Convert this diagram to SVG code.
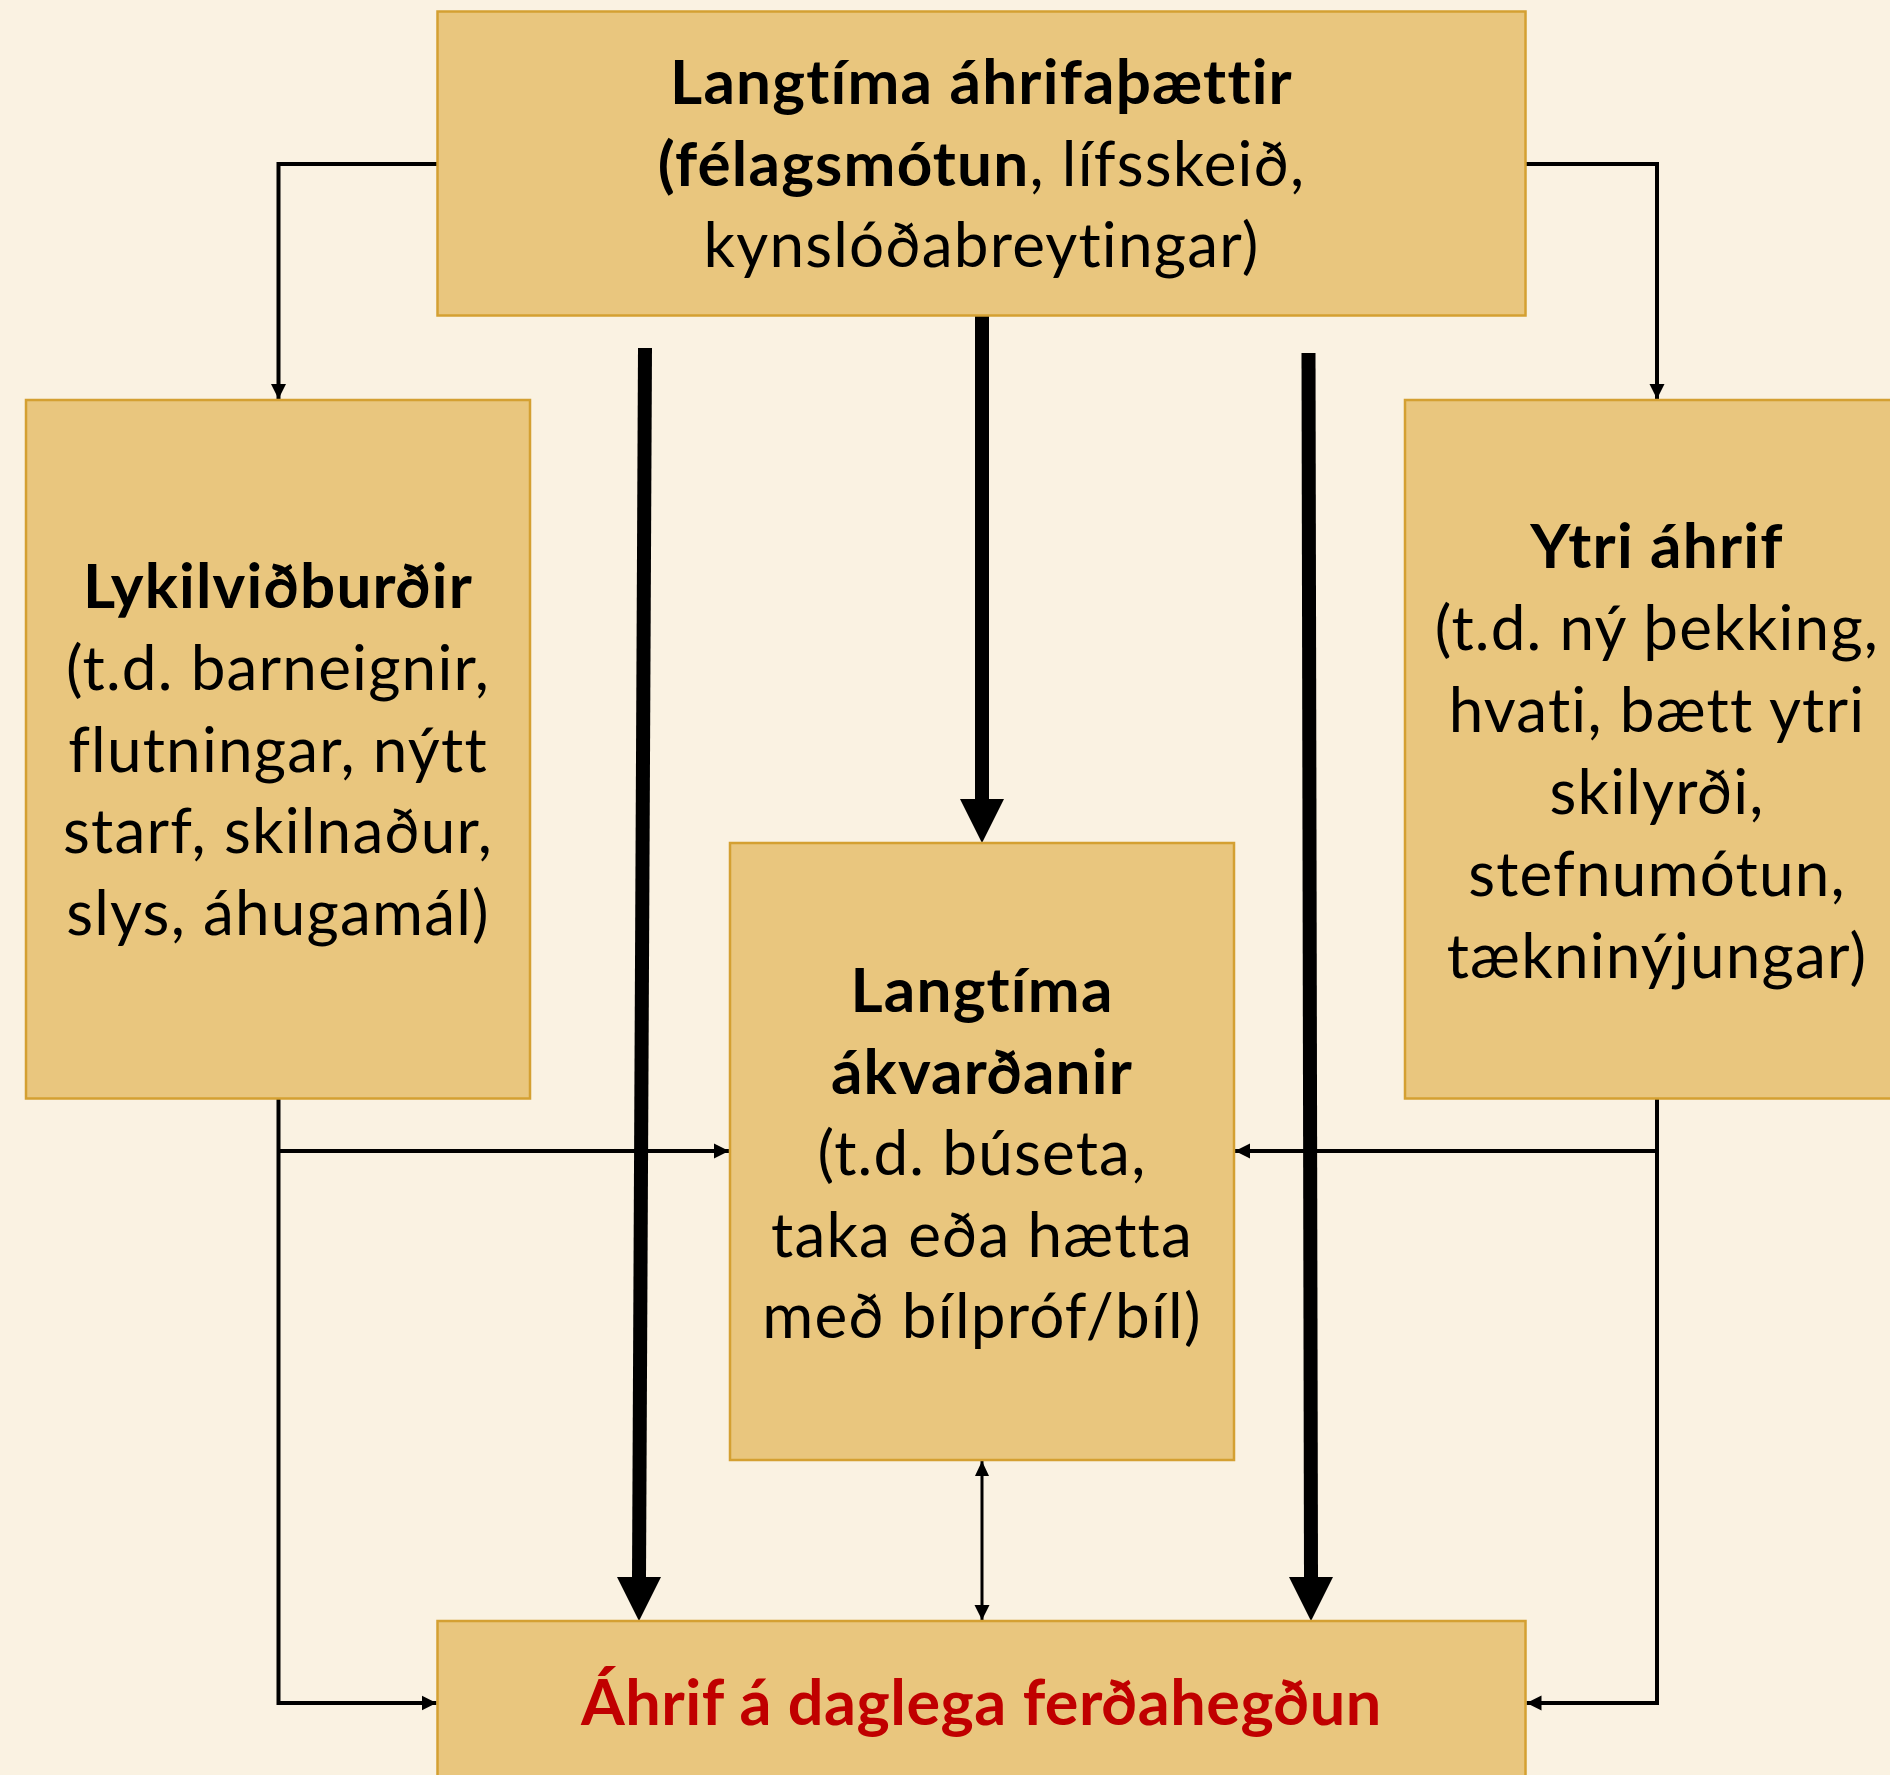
<svg xmlns="http://www.w3.org/2000/svg" width="1890" height="1775" viewBox="0 0 1890 1775">
<style>
.box{fill:#E9C67E;stroke:#D4A032;stroke-width:2.5}
.t{font-family:Lato,"Open Sans","Liberation Sans",sans-serif;font-size:62px;letter-spacing:1.2px;fill:#000;text-anchor:middle;font-variant-ligatures:none;font-feature-settings:"liga" 0,"clig" 0,"dlig" 0}
.b{font-weight:bold}
.red{fill:#C00000;font-weight:bold;font-size:63px;letter-spacing:0.5px}
.thin{fill:none;stroke:#000;stroke-width:4}
.thin2{fill:none;stroke:#000;stroke-width:3}
.thick{fill:none;stroke:#000;stroke-width:14}
</style>
<defs>
<marker id="ah" markerUnits="userSpaceOnUse" markerWidth="16" markerHeight="16" viewBox="0 0 16 16" refX="15" refY="8" orient="auto">
<path d="M0,0.5 L15,8 L0,15.5 Z" fill="#000"/>
</marker>
<marker id="ahs" markerUnits="userSpaceOnUse" markerWidth="16" markerHeight="16" viewBox="0 0 16 16" refX="0" refY="8" orient="auto">
<path d="M15,1 L0,8 L15,15 Z" fill="#000"/>
</marker>
</defs>
<rect x="0" y="0" width="1890" height="1775" fill="#FAF2E2"/>

<g id="connectors">
<path class="thin" d="M437.5,164 H278.5 V399" marker-end="url(#ah)"/>
<path class="thin" d="M1525.5,164 H1657 V399" marker-end="url(#ah)"/>
<path class="thin" d="M278.5,1099 V1703 H436.5" marker-end="url(#ah)"/>
<path class="thin" d="M278.5,1151 H729" marker-end="url(#ah)"/>
<path class="thin" d="M1657,1099 V1703 H1526.5" marker-end="url(#ah)"/>
<path class="thin" d="M1657,1151 H1235" marker-end="url(#ah)"/>
<path class="thin2" d="M982,1461 V1620" marker-start="url(#ahs)" marker-end="url(#ah)"/>
<line class="thick" x1="982" y1="316" x2="982" y2="800"/>
<polygon points="960,799 1004,799 982,843" fill="#000"/>
<line class="thick" x1="645" y1="348" x2="639" y2="1578"/>
<polygon points="617,1577 661,1577 639,1621" fill="#000"/>
<line class="thick" x1="1308.5" y1="353" x2="1311" y2="1578"/>
<polygon points="1289,1577 1333,1577 1311,1621" fill="#000"/>
</g>

<g id="top">
<rect class="box" x="437.5" y="11.5" width="1088" height="304"/>
<text class="t b" x="981.5" y="104">Langtíma áhrifaþættir</text>
<text class="t" x="981.5" y="185.5"><tspan class="b">(félagsmótun</tspan>, lífsskeið,</text>
<text class="t" x="981.5" y="267">kynslóðabreytingar)</text>
</g>

<g id="left">
<rect class="box" x="26" y="400" width="504" height="698.5"/>
<text class="t b" x="278" y="608">Lykilviðburðir</text>
<text class="t" x="278" y="690">(t.d. barneignir,</text>
<text class="t" x="278" y="771.5">flutningar, nýtt</text>
<text class="t" x="278" y="853">starf, skilnaður,</text>
<text class="t" x="278" y="935">slys, áhugamál)</text>
</g>

<g id="right">
<rect class="box" x="1405" y="400" width="504" height="698.5"/>
<text class="t b" x="1657" y="568">Ytri áhrif</text>
<text class="t" x="1657" y="650">(t.d. ný þekking,</text>
<text class="t" x="1657" y="732">hvati, bætt ytri</text>
<text class="t" x="1657" y="814">skilyrði,</text>
<text class="t" x="1657" y="896">stefnumótun,</text>
<text class="t" x="1657" y="978">tækninýjungar)</text>
</g>

<g id="middle">
<rect class="box" x="730" y="843" width="504" height="617"/>
<text class="t b" x="982" y="1012">Langtíma</text>
<text class="t b" x="982" y="1093.5">ákvarðanir</text>
<text class="t" x="982" y="1175">(t.d. búseta,</text>
<text class="t" x="982" y="1256.5">taka eða hætta</text>
<text class="t" x="982" y="1338">með bílpróf/bíl)</text>
</g>

<g id="bottom">
<rect class="box" x="437.5" y="1621" width="1088" height="200"/>
<text class="t red" x="981.5" y="1725">Áhrif á daglega ferðahegðun</text>
</g>
</svg>
